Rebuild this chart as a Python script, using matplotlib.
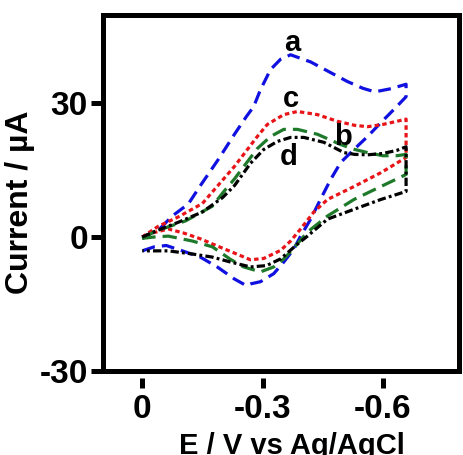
import matplotlib
matplotlib.use("Agg")
import matplotlib.pyplot as plt

plt.rcParams["font.family"] = ["Liberation Sans", "DejaVu Sans"]
plt.rcParams["font.weight"] = "bold"
plt.rcParams["axes.unicode_minus"] = False

# curve a (blue): forward branch then reverse branch
a_E = [0, -0.04, -0.075, -0.115, -0.145, -0.19, -0.23, -0.26, -0.278, -0.295, -0.32,
       -0.345, -0.37, -0.42, -0.47, -0.512, -0.55, -0.58, -0.62, -0.658,
       -0.658, -0.628, -0.595, -0.562, -0.528, -0.495, -0.47, -0.445, -0.42, -0.395,
       -0.378, -0.353, -0.328, -0.295, -0.27, -0.26, -0.23, -0.187, -0.145, -0.1,
       -0.06, -0.03, 0]
a_I = [0, 1.5, 4.7, 7.4, 11.5, 17.4, 23.0, 27.0, 29.2, 33.0, 37.5,
       39.8, 40.8, 39.2, 36.8, 34.8, 33.3, 32.5, 33.2, 34.2,
       31.4, 28.6, 25.6, 22.5, 19.6, 16.7, 12.9, 8.5, 4.0, 0.2,
       -2.7, -5.6, -8.2, -10.0, -10.5, -10.9, -9.4, -6.7, -4.5, -3.1,
       -1.9, -2.2, -3.1]

# curve b (green)
b_E = [0, -0.033, -0.108, -0.175, -0.2, -0.23, -0.287, -0.32, -0.353, -0.387,
       -0.437, -0.495, -0.53, -0.562, -0.6, -0.635, -0.658,
       -0.658, -0.595, -0.528, -0.462, -0.412, -0.37, -0.353, -0.328, -0.295,
       -0.253, -0.22, -0.175, -0.125, -0.065, -0.03, 0]
b_I = [-0.3, 1.3, 3.6, 6.9, 9.8, 13.0, 19.8, 22.5, 24.1, 24.1,
       23.0, 20.7, 19.6, 18.9, 18.2, 18.2, 18.5,
       14.0, 11.3, 8.4, 4.7, 1.1, -3.3, -4.9, -6.7, -7.8,
       -6.7, -5.0, -2.2, -0.9, 0.2, 0, -0.3]

# curve c (red)
c_E = [0, -0.04, -0.09, -0.15, -0.23, -0.287, -0.312, -0.353, -0.387, -0.437,
       -0.487, -0.53, -0.562, -0.6, -0.635, -0.658,
       -0.658, -0.595, -0.528, -0.462, -0.428, -0.395, -0.37, -0.345, -0.303,
       -0.27, -0.23, -0.187, -0.145, -0.103, -0.065, -0.03, 0]
c_I = [0, 2.4, 4.5, 7.5, 15.8, 22.5, 25.2, 27.4, 28.1, 27.4,
       25.9, 25.0, 24.7, 25.2, 25.9, 26.4,
       17.8, 14.4, 11.3, 8.4, 5.6, 1.8, -0.9, -3.0, -4.8,
       -5.1, -3.6, -2.0, -0.4, 0.9, 1.8, 1.0, 0]

# curve d (black)
d_E = [0, -0.033, -0.09, -0.15, -0.2, -0.23, -0.27, -0.303, -0.337, -0.37,
       -0.403, -0.453, -0.503, -0.53, -0.562, -0.6, -0.635, -0.658,
       -0.658, -0.595, -0.528, -0.462, -0.412, -0.387, -0.345, -0.31, -0.27,
       -0.22, -0.175, -0.125, -0.065, 0]
d_I = [0, 1.3, 3.3, 5.6, 8.8, 11.5, 16.5, 19.6, 21.4, 22.3,
       22.3, 21.2, 18.9, 18.5, 18.4, 18.7, 19.4, 20.2,
       10.2, 8.4, 6.2, 4.0, 0.2, -1.6, -4.9, -6.4, -6.7,
       -5.6, -4.5, -3.8, -3.1, -3.1]

curve_labels = ["a", "b", "c", "d"]
label_E = [-0.375, -0.50, -0.37, -0.365]
label_I = [43.5, 22.5, 30.8, 18.0]

x_ticks = [0, -0.3, -0.6]
x_ticklabels = ["0", "-0.3", "-0.6"]
y_ticks = [-30, 0, 30]

fig = plt.figure(figsize=(4.63, 4.55), dpi=100)
ax = fig.add_axes([0.2214, 0.1846, 0.77, 0.7814])

lw = 2.3
ax.plot(a_E, a_I, color="#1010e0", lw=lw, dashes=(4, 2.2))
ax.plot(c_E, c_I, color="#e81418", lw=lw, dashes=(1.4, 1.0))
ax.plot(b_E, b_I, color="#1e7a2a", lw=lw, dashes=(4.5, 2.2))
ax.plot(d_E, d_I, color="black", lw=lw, dashes=(2.6, 1.0, 0.9, 1.0))

for t, x, y in zip(curve_labels, label_E, label_I):
    ax.text(x, y, t, fontsize=21, fontweight="bold", ha="center", va="center")

ax.set_xlim(0.099, -0.79)
ax.set_ylim(-30, 49.6)

for s in ax.spines.values():
    s.set_linewidth(3.6)

ax.set_yticks(y_ticks)
ax.tick_params(axis="y", length=8.6, width=3.6, pad=2, labelsize=24)
ax.tick_params(axis="x", bottom=False, labelbottom=False)

sec = ax.secondary_xaxis(-0.02)
sec.spines["bottom"].set_visible(False)
sec.set_xticks(x_ticks)
sec.set_xticklabels(x_ticklabels)
sec.tick_params(axis="x", length=7.2, width=3.6, pad=4, labelsize=24)

ax.set_ylabel("Current / µA", fontsize=23, fontweight="bold")
ax.yaxis.set_label_coords(-0.189, 0.475)
ax.set_xlabel("E / V vs Ag/AgCl", fontsize=21, fontweight="bold")
ax.xaxis.set_label_coords(0.53, -0.172)

fig.savefig("out.png", dpi=100)
